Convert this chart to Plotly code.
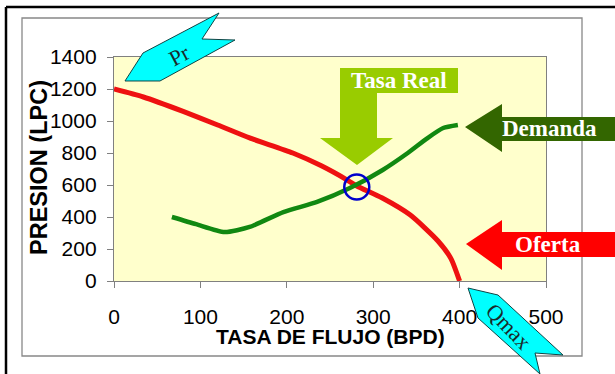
import plotly.graph_objects as go

# ---- data ----
oferta_q = [0, 34, 80, 120, 157, 207, 240, 270, 281, 310, 343, 375, 390, 400]
oferta_p = [1200, 1150, 1060, 975, 894, 800, 720, 631, 594, 520, 412, 250, 140, 0]

demanda_q = [67, 95, 128, 157, 196, 235, 273, 311, 340, 362, 381, 398]
demanda_p = [400, 355, 306, 338, 431, 494, 581, 694, 800, 890, 956, 975]

real_q = [281]
real_p = [587]

x_ticks = [0, 100, 200, 300, 400, 500]
y_ticks = [0, 200, 400, 600, 800, 1000, 1200, 1400]

W, H = 615, 374
L, R, T, B = 114, 546, 57, 281  # plot area in pixels


def px(x):
    return (x - L) / (R - L)


def py(y):
    return (B - y) / (B - T)


def path(points):
    s = "M " + " L ".join(f"{px(x):.5f},{py(y):.5f}" for x, y in points) + " Z"
    return s


fig = go.Figure()
fig.add_trace(go.Scatter(x=oferta_q, y=oferta_p, mode="lines",
                         line=dict(color="#EE1111", width=5, shape="spline", smoothing=0.6),
                         showlegend=False, hoverinfo="skip"))
fig.add_trace(go.Scatter(x=demanda_q, y=demanda_p, mode="lines",
                         line=dict(color="#118811", width=4.5, shape="spline", smoothing=0.6),
                         showlegend=False, hoverinfo="skip"))
fig.add_trace(go.Scatter(x=real_q, y=real_p, mode="markers",
                         marker=dict(symbol="circle-open", size=25, color="#0000CC",
                                     line=dict(width=2.5, color="#0000CC")),
                         showlegend=False, hoverinfo="skip"))

shapes = []
# inner gray frame
shapes.append(dict(type="rect", xref="paper", yref="paper",
                   x0=px(22), x1=px(582), y0=py(356), y1=py(18),
                   line=dict(color="#888888", width=1.3), fillcolor="rgba(0,0,0,0)", layer="below"))
# outer black frame (top and left edges)
shapes.append(dict(type="line", xref="paper", yref="paper",
                   x0=px(6), x1=px(640), y0=py(7), y1=py(7),
                   line=dict(color="black", width=2.5), layer="above"))
shapes.append(dict(type="line", xref="paper", yref="paper",
                   x0=px(6), x1=px(6), y0=py(7), y1=py(400),
                   line=dict(color="black", width=2.5), layer="above"))

# Pr arrow (cyan)
shapes.append(dict(type="path", xref="paper", yref="paper",
                   path=path([(125, 81), (143, 53), (219, 13), (202, 39), (235, 40), (160, 81)]),
                   fillcolor="#00FFFF", line=dict(color="#114444", width=1), layer="above"))
# Qmax arrow (cyan)
shapes.append(dict(type="path", xref="paper", yref="paper",
                   path=path([(468, 288), (498, 295), (563, 355), (535, 353), (540, 374), (478, 318)]),
                   fillcolor="#00FFFF", line=dict(color="#114444", width=1), layer="above"))
# Tasa Real arrow
shapes.append(dict(type="path", xref="paper", yref="paper",
                   path=path([(340, 68), (458, 68), (458, 93), (377, 93), (377, 138), (393, 138),
                              (357, 165), (320, 138), (340, 138)]),
                   fillcolor="#99CC00", line=dict(width=0), layer="above"))
# Demanda arrow
shapes.append(dict(type="path", xref="paper", yref="paper",
                   path=path([(465, 127), (502, 104), (502, 117), (625, 117), (625, 141),
                              (502, 141), (502, 152)]),
                   fillcolor="#336600", line=dict(width=0), layer="above"))
# Oferta arrow
shapes.append(dict(type="path", xref="paper", yref="paper",
                   path=path([(466, 244), (502, 220), (502, 232), (625, 232), (625, 257),
                              (502, 257), (502, 270)]),
                   fillcolor="#FF0000", line=dict(width=0), layer="above"))

serif = "Liberation Serif, Times New Roman, serif"
annotations = [
    dict(text="Pr", x=px(179), y=py(55), textangle=-28,
         font=dict(family=serif, size=22, color="#1a2a2a")),
    dict(text="Qmax", x=px(509), y=py(326), textangle=46,
         font=dict(family=serif, size=22, color="#1a2a2a")),
    dict(text="<b>Tasa Real</b>", x=px(399), y=py(81),
         font=dict(family=serif, size=23, color="white")),
    dict(text="<b>Demanda</b>", x=px(549), y=py(128),
         font=dict(family=serif, size=23, color="white")),
    dict(text="<b>Oferta</b>", x=px(548), y=py(244),
         font=dict(family=serif, size=23, color="white")),
    dict(text="<b>TASA DE FLUJO (BPD)</b>", x=0.5, y=py(336),
         font=dict(family="Liberation Sans, Arial, sans-serif", size=21, color="black")),
    dict(text="<b>PRESION (LPC)</b>", x=px(39), y=py(168), textangle=-90,
         font=dict(family="Liberation Sans, Arial, sans-serif", size=23.5, color="black")),
]
for a in annotations:
    a.update(xref="paper", yref="paper", showarrow=False, xanchor="center", yanchor="middle")

fig.update_layout(
    width=W, height=H,
    margin=dict(l=L, r=W - R, t=T, b=H - B, pad=0),
    paper_bgcolor="white",
    plot_bgcolor="#FFFFCC",
    shapes=shapes,
    annotations=annotations,
    showlegend=False,
    font=dict(family="Liberation Sans, Arial, sans-serif", size=21, color="black"),
)
fig.update_xaxes(range=[0, 500], tickvals=x_ticks, ticktext=[str(v) for v in x_ticks],
                 showgrid=False, zeroline=False, showline=True, mirror=True,
                 linecolor="#808080", linewidth=1.3, ticks="outside", ticklen=6,
                 tickcolor="#808080", ticklabelstandoff=11,
                 tickfont=dict(size=21, color="black"))
fig.update_yaxes(range=[0, 1400], tickvals=y_ticks, ticktext=[str(v) for v in y_ticks],
                 showgrid=False, zeroline=False, showline=True, mirror=True,
                 linecolor="#808080", linewidth=1.3, ticks="outside", ticklen=6,
                 tickcolor="#808080", ticklabelstandoff=6,
                 tickfont=dict(size=21, color="black"))

fig.write_html("out.html", config={"displayModeBar": False},
               post_script="document.body.style.margin='0px';")
